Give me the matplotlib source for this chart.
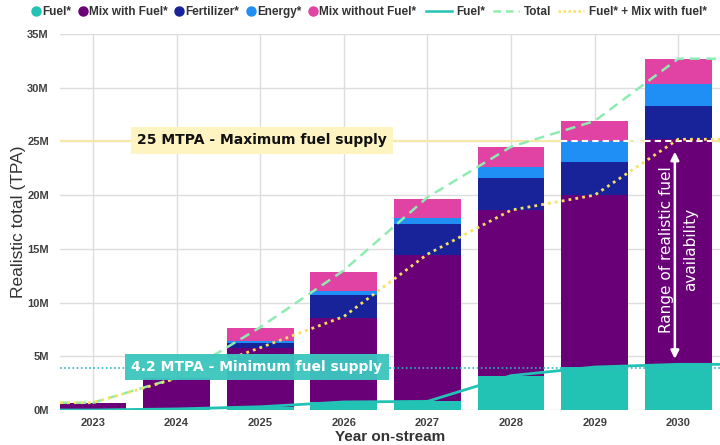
import matplotlib
matplotlib.use("Agg")
import matplotlib.pyplot as plt
from matplotlib.lines import Line2D
import numpy as np

# values in million tonnes per annum
years = ["2023", "2024", "2025", "2026", "2027", "2028", "2029", "2030"]
fuel = [0.0, 0.1, 0.3, 0.75, 0.8, 3.2, 4.0, 4.25]
mix_with_fuel = [0.68, 2.9, 5.45, 7.85, 13.6, 15.4, 16.0, 20.95]
fertilizer = [0.0, 0.0, 0.45, 2.1, 2.95, 3.0, 3.1, 3.1]
energy = [0.0, 0.0, 0.22, 0.38, 0.55, 1.05, 1.97, 2.05]
mix_without_fuel = [0.0, 0.0, 1.24, 1.77, 1.78, 1.84, 1.83, 2.3]

fuel_line = [0.0, 0.1, 0.3, 0.75, 0.8, 3.2, 4.0, 4.25]
total_line = [0.68, 3.0, 7.7, 13.0, 19.8, 24.5, 26.9, 32.7]
fuel_plus_mix_line = [0.68, 2.95, 5.8, 8.7, 14.5, 18.6, 20.0, 25.2]

max_supply = 25.0
min_supply = 3.95
max_label = "25 MTPA - Maximum fuel supply"
min_label = "4.2 MTPA - Minimum fuel supply"

c_fuel = "#22c2b4"
c_mix = "#6a0078"
c_fert = "#18239a"
c_energy = "#1f8ff5"
c_mixwo = "#e043a4"
c_total = "#8eecb0"
c_yellow = "#f6e25c"

plt.rcParams["font.family"] = ["Liberation Sans", "DejaVu Sans"]

fig = plt.figure(figsize=(7.2, 4.45), dpi=100)
ax = fig.add_axes([60 / 720, 1 - 410 / 445, 660 / 720, (410 - 34) / 445])

x = np.arange(len(years))
M = 1e6
width = 0.8
series = [(fuel, c_fuel), (mix_with_fuel, c_mix), (fertilizer, c_fert),
          (energy, c_energy), (mix_without_fuel, c_mixwo)]
bottom = np.zeros(len(years))
for vals, col in series:
    v = np.array(vals) * M
    ax.bar(x, v, width, bottom=bottom, color=col, zorder=2, linewidth=0)
    bottom += v

x0, x1 = -0.395, 7.5
ax.set_xlim(x0, x1)
ax.set_ylim(0, 35 * M)

# lines run flat out to the plot edges
xe = np.r_[x0, x, x1]


def ext(vals):
    v = np.array(vals) * M
    return np.r_[v[0], v, v[-1]]


ax.axhline(max_supply * M, color="#f7e8a4", lw=1.5, zorder=1)
ax.plot(xe, ext(fuel_line), color=c_fuel, lw=2, zorder=4, solid_capstyle="butt")
ax.plot(xe, ext(total_line), color=c_total, lw=1.8, ls=(0, (4, 2.5)), zorder=4)
ax.plot(xe, ext(fuel_plus_mix_line), color=c_yellow, lw=2, ls=(0, (1, 1.5)), zorder=4)
ax.axhline(min_supply * M, color="#2fb6c4", lw=1.2, ls=(0, (1, 1.5)), zorder=3)

# white dashed marker at max supply across the last two bars
ax.hlines(max_supply * M, 6 - width / 2, 7 + width / 2, color="white", lw=1.5,
          ls=(0, (3, 2)), zorder=3)

ax.text(2.02, 25.1 * M, max_label, ha="center", va="center", fontsize=10,
        fontweight="bold", family="DejaVu Sans", color="#111111", zorder=6,
        bbox=dict(boxstyle="square,pad=0.45", fc="#fdf4c2", ec="none"))
ax.text(1.96, 4.0 * M, min_label, ha="center", va="center", fontsize=10,
        fontweight="bold", family="DejaVu Sans", color="white", zorder=6,
        bbox=dict(boxstyle="square,pad=0.45", fc="#3cc6be", ec="none", alpha=0.96))

ax.annotate("", xy=(6.96, 24.3 * M), xytext=(6.96, 4.5 * M),
            arrowprops=dict(arrowstyle="<|-|>", color="white", lw=1.8,
                            mutation_scale=12), zorder=6)
ax.text(7.0, 14.9 * M, "Range of realistic fuel\navailability", rotation=90,
        ha="center", va="center", fontsize=11, color="white", linespacing=1.75,
        family="DejaVu Sans", zorder=6)

ax.set_xticks(x)
ax.set_xticklabels(years)
yt = np.arange(0, 36, 5)
ax.set_yticks(yt * M)
ax.set_yticklabels([f"{v}M" for v in yt])
ax.tick_params(length=0, labelsize=8, labelcolor="#404040")
ax.tick_params(axis="y", pad=8)
ax.tick_params(axis="x", pad=6)
for lab in ax.get_xticklabels() + ax.get_yticklabels():
    lab.set_fontweight("bold")
ax.grid(True, color="#dddddd", lw=1, zorder=0)
ax.set_axisbelow(True)
for s in ax.spines.values():
    s.set_visible(False)

ax.set_ylabel("Realistic total (TPA)", fontsize=12.5, color="#333333", labelpad=1)
ax.set_xlabel("Year on-stream", fontsize=11, fontweight="bold", color="#333333",
              labelpad=1)

# legend: marker entries and line entries as two groups
bar_handles = [Line2D([], [], marker="o", ls="none", color=c, markersize=6.5)
               for c in [c_fuel, c_mix, c_fert, c_energy, c_mixwo]]
bar_labels = ["Fuel*", "Mix with Fuel*", "Fertilizer*", "Energy*", "Mix without Fuel*"]
line_handles = [
    Line2D([], [], color=c_fuel, lw=1.8),
    Line2D([], [], color=c_total, lw=1.8, ls=(0, (3, 2))),
    Line2D([], [], color=c_yellow, lw=1.8, ls=(0, (1, 1))),
]
line_labels = ["Fuel*", "Total", "Fuel* + Mix with fuel*"]

leg1 = fig.legend(bar_handles, bar_labels, loc="upper left",
                  bbox_to_anchor=(26 / 720, 1.0), ncol=5, frameon=False,
                  fontsize=8.5, handletextpad=0.15, columnspacing=0.6,
                  handlelength=0.75, borderaxespad=0.3, borderpad=0.2)
leg2 = fig.legend(line_handles, line_labels, loc="upper left",
                  bbox_to_anchor=(420 / 720, 1.0), ncol=3, frameon=False,
                  fontsize=8.5, handletextpad=0.4, columnspacing=0.6,
                  handlelength=2.2, borderaxespad=0.3, borderpad=0.2)
for leg in (leg1, leg2):
    for t in leg.get_texts():
        t.set_color("#333333")
        t.set_fontweight("bold")

fig.savefig("out.png", dpi=100)
